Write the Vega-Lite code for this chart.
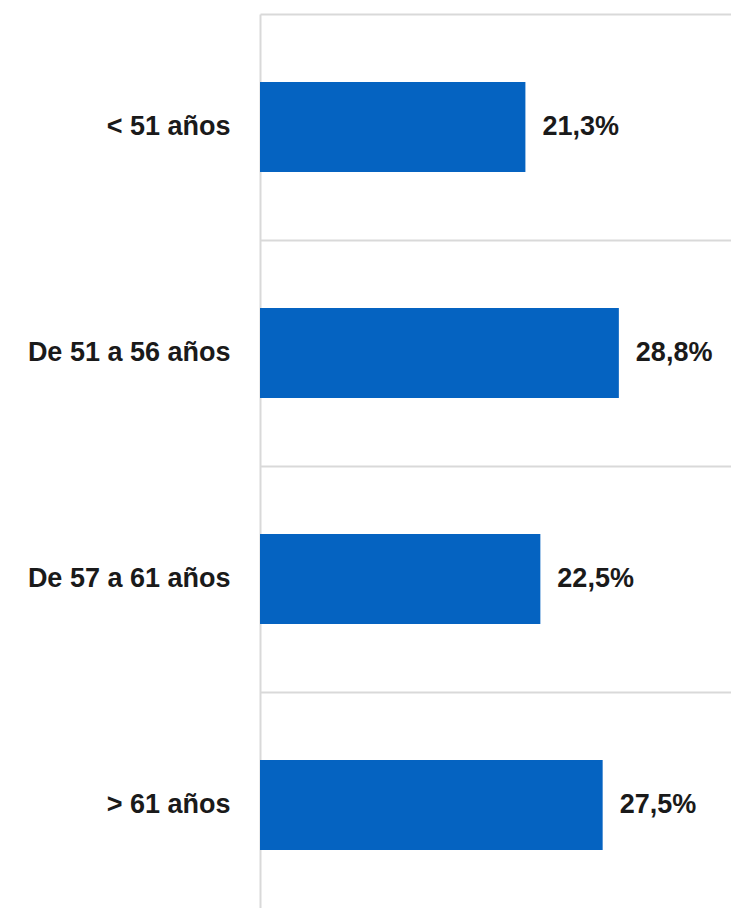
{
  "$schema": "https://vega.github.io/schema/vega-lite/v6.json",
  "width": 471,
  "height": 904,
  "autosize": "none",
  "padding": {"left": 260, "top": 14, "right": 0, "bottom": 0},
  "background": "white",
  "config": {
    "view": {"stroke": null},
    "locale": {"number": {"decimal": ",", "thousands": ".", "grouping": [3], "currency": ["", " €"]}}
  },
  "data": {
    "values": [
      {"grupo": "< 51 años", "valor": 0.213},
      {"grupo": "De 51 a 56 años", "valor": 0.288},
      {"grupo": "De 57 a 61 años", "valor": 0.225},
      {"grupo": "> 61 años", "valor": 0.275}
    ]
  },
  "encoding": {
    "y": {
      "field": "grupo",
      "type": "nominal",
      "sort": null,
      "scale": {"paddingInner": 0, "paddingOuter": 0},
      "axis": {
        "title": null,
        "bandPosition": 0,
        "ticks": false,
        "grid": true,
        "gridColor": "#d9d9d9",
        "gridWidth": 2,
        "domainColor": "#d9d9d9",
        "domainWidth": 2,
        "labelPadding": 30,
        "labelFont": "Liberation Sans",
        "labelFontWeight": "bold",
        "labelFontSize": 27,
        "labelColor": "#1a1a1a",
        "labelLimit": 0,
        "labelBound": false,
        "labelOverlap": false
      }
    },
    "x": {
      "field": "valor",
      "type": "quantitative",
      "scale": {"domain": [0, 0.378], "nice": false, "zero": true},
      "axis": null
    }
  },
  "layer": [
    {"mark": {"type": "bar", "size": 90, "color": "#0563C1"}},
    {
      "mark": {"type": "text", "align": "left", "baseline": "middle", "dx": 17, "font": "Liberation Sans", "fontWeight": "bold", "fontSize": 27, "color": "#1a1a1a"},
      "encoding": {"text": {"field": "valor", "type": "quantitative", "format": ".1%"}}
    }
  ]
}
